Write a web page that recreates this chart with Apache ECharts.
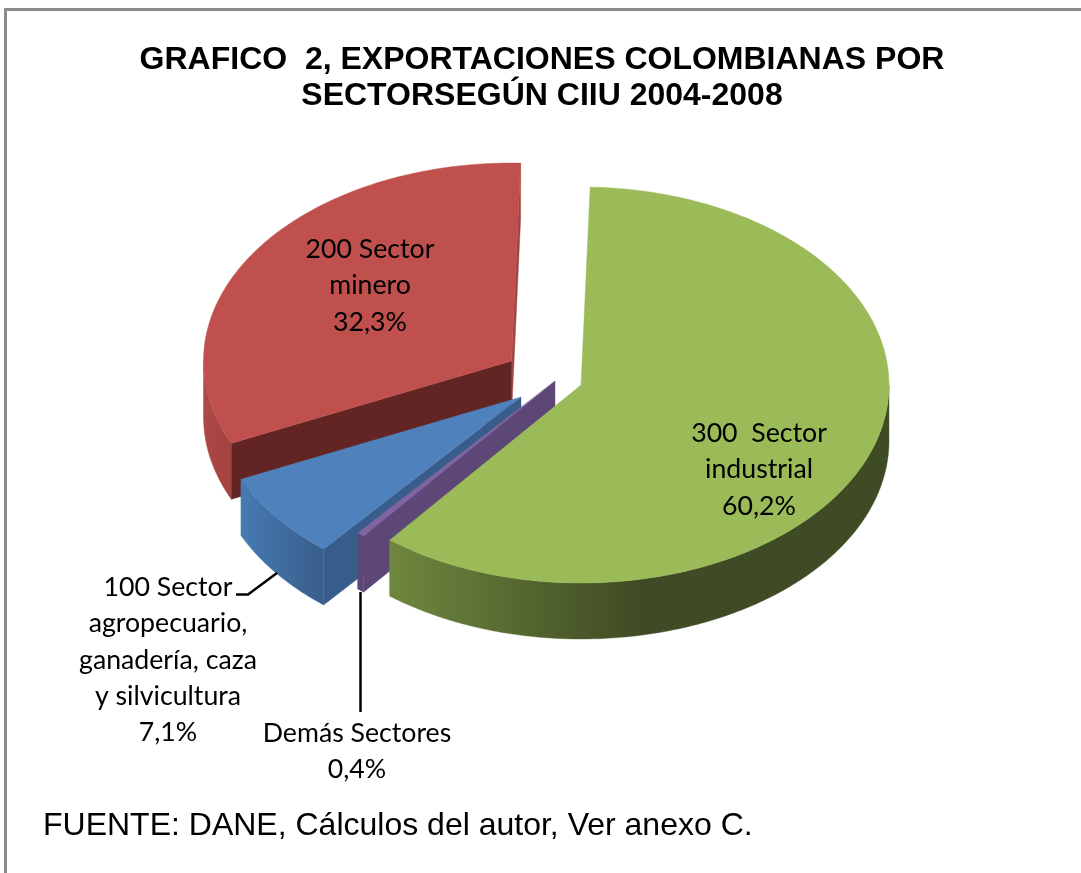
<!DOCTYPE html>
<html>
<head>
<meta charset="utf-8">
<style>html,body{margin:0;padding:0;background:#fff}#c{width:1081px;height:873px}</style>
<script src="https://cdn.jsdelivr.net/npm/echarts@6/dist/echarts.min.js"></script>
</head>
<body>
<div id="c"></div>
<script>
// Data, counter-clockwise from the start of the red slice
const categories = ['200 Sector\nminero', '100 Sector\nagropecuario,\nganadería, caza\ny silvicultura', 'Demás Sectores', '300  Sector\nindustrial'];
const values = [32.3, 7.1, 0.4, 60.2];
const valueLabels = ['32,3%', '7,1%', '0,4%', '60,2%'];
const titleText = 'GRAFICO  2, EXPORTACIONES COLOMBIANAS POR\nSECTORSEGÚN CIIU 2004-2008';
const sourceText = 'FUENTE: DANE, Cálculos del autor, Ver anexo C.';

// Drawing geometry (the 3D projection of the pie)
const RX = 308, RY = 198, DEPTH = 56, START_DEG = 361.7;
const apexes = [[511.5, 361], [521, 397], [555, 381], [581, 385]];
const topColors = ['#C0504D', '#4F81BD', '#8064A2', '#9BBB59'];
const cutColors = ['#632523', '#385D8A', '#5C4776', null];
const sideStops = [
  [[0, '#AD4845'], [1, '#A04341']],
  [[0, '#467BB3'], [1, '#385D8A']],
  [[0, '#5C4776'], [1, '#5C4776']],
  [[0, '#6F873E'], [1, '#3F4B24']]
];
const sideSpan = [[205, 235], [241, 325], [355, 366], [389, 640]];
const labelAnchors = [[370, 249.5], [168, 587.5], [357, 733.5], [759, 433.5]];
const LINE_H = 36.2;

const sum = values.reduce((a, b) => a + b, 0);
function pt(a, deg, dy) {
  const r = deg * Math.PI / 180;
  return [a[0] + RX * Math.sin(r), a[1] - RY * Math.cos(r) + (dy || 0)];
}
function arc(a, from, to, dy) {
  const n = Math.max(2, Math.ceil(Math.abs(to - from) * 1.5)), out = [];
  for (let i = 0; i <= n; i++) out.push(pt(a, from + (to - from) * i / n, dy));
  return out;
}
function renderItem(params, api) {
  const i = params.dataIndex;
  const v = api.value(0);
  let before = 0;
  for (let k = 0; k < i; k++) before += values[k];
  const hi = START_DEG - before / sum * 360;   // larger angle
  const lo = hi - v / sum * 360;               // smaller angle
  const a = apexes[i], kids = [];
  const poly = (points, fill) => kids.push({
    type: 'polygon', shape: { points }, style: { fill, stroke: fill, lineWidth: 0.4 }, silent: true
  });
  // thin end face on the right of the red slice
  if (i === 0) {
    const e = pt(a, hi);
    poly([a, e, [e[0], e[1] + DEPTH], [a[0], a[1] + DEPTH]], '#A04542');
  }
  // outer wall: the visible part of the rim is the front half (90..270 deg)
  const from = Math.max(lo, 90), to = Math.min(hi, 270);
  if (to > from) {
    const t = arc(a, from, to), b = arc(a, from, to, DEPTH).reverse();
    const s = sideSpan[i];
    poly(t.concat(b), {
      type: 'linear', global: true, x: s[0], y: 0, x2: s[1], y2: 0,
      colorStops: sideStops[i].map(c => ({ offset: c[0], color: c[1] }))
    });
  }
  // visible cut face
  if (cutColors[i]) {
    const e = pt(a, lo);
    poly([a, e, [e[0], e[1] + DEPTH], [a[0], a[1] + DEPTH]], cutColors[i]);
  }
  // top face
  poly([a].concat(arc(a, lo, hi)), topColors[i]);
  // label
  const lines = (categories[i] + '\n' + valueLabels[i]).split('\n');
  const la = labelAnchors[i];
  lines.forEach((t, n) => kids.push({
    type: 'text', silent: true, z2: 10,
    style: {
      text: t, x: la[0], y: la[1] + n * LINE_H, align: 'center', verticalAlign: 'middle',
      font: '26.7px Lato', fill: '#000'
    }
  }));
  return { type: 'group', children: kids };
}

const chart = echarts.init(document.getElementById('c'), null, { renderer: 'canvas', width: 1081, height: 873 });
chart.setOption({
  animation: false,
  backgroundColor: '#fff',
  title: [
    {
      text: titleText, left: 537, top: 37, textAlign: 'center',
      textStyle: { fontFamily: 'Liberation Sans', fontWeight: 'bold', fontSize: 32, lineHeight: 36, color: '#000' }
    },
    {
      text: sourceText, left: 38, top: 803,
      textStyle: { fontFamily: 'Liberation Sans', fontWeight: 'normal', fontSize: 32, lineHeight: 36, color: '#000' }
    }
  ],
  graphic: [
    { type: 'polyline', silent: true, shape: { points: [[5.5, 873], [5.5, 9.5], [1081, 9.5]] }, style: { stroke: '#8C8C8C', lineWidth: 3, fill: 'none' } },
    { type: 'polyline', silent: true, z: 5, shape: { points: [[236, 594.5], [248, 594.5], [277, 573]] }, style: { stroke: '#000', lineWidth: 2.5, fill: 'none' } },
    { type: 'polyline', silent: true, z: 5, shape: { points: [[360.5, 592], [360.5, 712]] }, style: { stroke: '#000', lineWidth: 2.5, fill: 'none' } }
  ],
  series: [{
    type: 'custom',
    coordinateSystem: 'none',
    renderItem,
    silent: true,
    data: values.map((v, i) => ({ value: [v], name: categories[i] }))
  }]
});
</script>
</body>
</html>
